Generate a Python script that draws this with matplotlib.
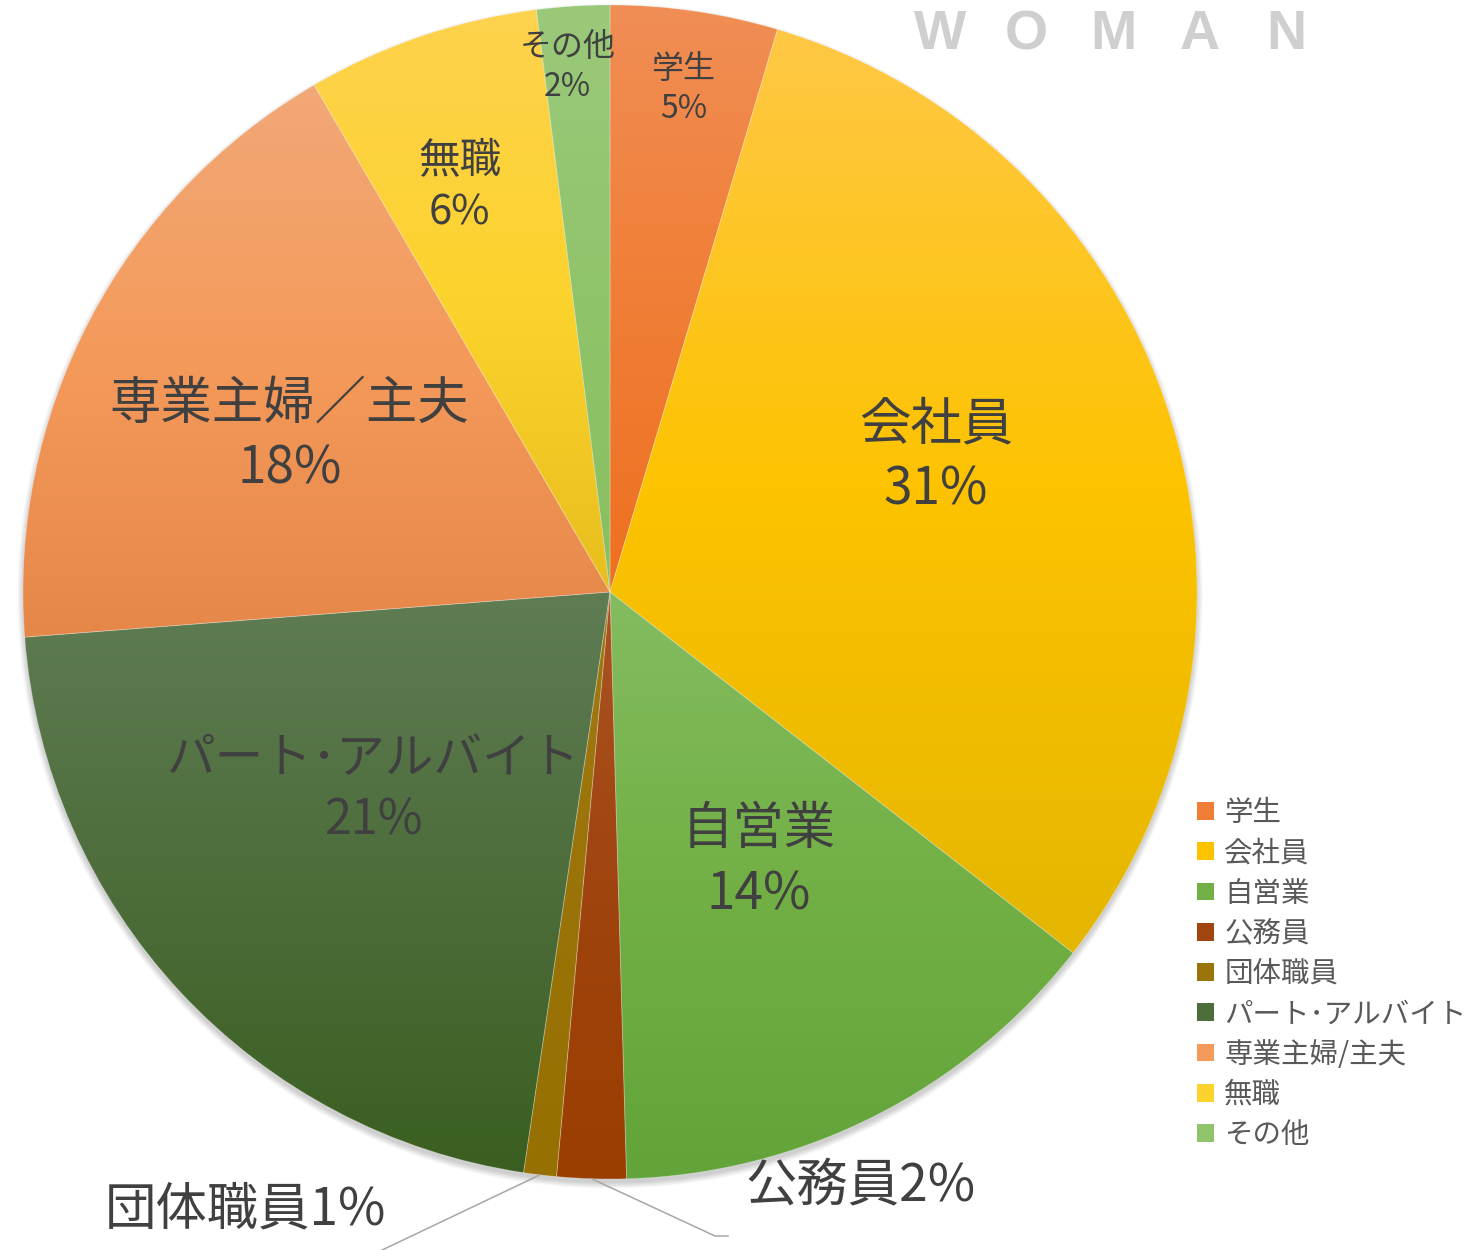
import numpy as np
import matplotlib
matplotlib.use("Agg")
import matplotlib.pyplot as plt
from matplotlib.colors import to_rgb
from matplotlib.patches import Circle, Patch

plt.rcParams["font.family"] = ["Noto Sans CJK JP", "DejaVu Sans"]

# データ (時計回り、上から)
categories = ["学生", "会社員", "自営業", "公務員", "団体職員",
              "パート･アルバイト", "専業主婦/主夫", "無職", "その他"]
values = [4.6, 30.9, 14.0, 1.9, 0.9, 21.4, 17.8, 6.4, 2.0]

# グラデーション色 (上, 中, 下)
colors_top = ["#F08E55", "#FFC845", "#84BC60", "#AA5422", "#A07812",
              "#5F7C53", "#F2A877", "#FED34E", "#9AC97A"]
colors_mid = ["#F07E36", "#FDC300", "#72B045", "#A04410", "#9A7408",
              "#4D6D3B", "#F49A5A", "#FCD22C", "#90C46A"]
colors_bottom = ["#EE7020", "#E4B600", "#62A43A", "#9A3E00", "#967000",
                 "#3A5F20", "#E6874A", "#E8BE1E", "#88BE60"]

W, H = 1467, 1250
cx, cy, R = 610, H - 592, 587
text_col = "#404040"

fig = plt.figure(figsize=(W / 100, H / 100), dpi=100)
ax = fig.add_axes([0, 0, 1, 1])

# 影
for i in range(8):
    ax.add_patch(Circle((cx, cy - 4), R + i * 0.8, color="black",
                        alpha=0.025, lw=0, zorder=0))

wedges, _ = ax.pie(values, startangle=90, counterclock=False,
                   center=(cx, cy), radius=R,
                   wedgeprops=dict(linewidth=0.6, edgecolor=(1, 1, 1, 0.25)))

t = np.linspace(0, 1, 256)
for w, ct, cm, cb in zip(wedges, colors_top, colors_mid, colors_bottom):
    w.set_zorder(2)
    w.set_facecolor("none")
    ext = w.get_path().get_extents()
    stops = np.array([to_rgb(cb), to_rgb(cm), to_rgb(ct)])
    grad = np.stack([np.interp(t, [0, 0.5, 1], stops[:, k]) for k in range(3)], axis=-1)
    im = ax.imshow(grad[:, None, :], extent=(ext.x0, ext.x1, ext.y0, ext.y1),
                   origin="lower", aspect="auto", zorder=1, interpolation="bilinear")
    im.set_clip_path(w)

total = sum(values)
pcts = [round(v / total * 100) for v in values]

# ラベル配置 (半径比, 角度補正[度], 文字サイズ)
label_dist = [0.866, 0.601, 0.525, None, None, 0.526, 0.607, 0.736, 0.897]
label_shift = [0.0, 4.75, 1.9, 0, 0, -3.1, 1.8, 1.6, 1.0]
label_size = [23, 37, 37, 37, 37, 35, 37, 30, 23]

for w, name, p, d, sh, fs in zip(wedges, categories, pcts, label_dist,
                                 label_shift, label_size):
    if d is None:
        continue
    mid = np.deg2rad((w.theta1 + w.theta2) / 2 + sh)
    x = cx + d * R * np.cos(mid)
    y = cy + d * R * np.sin(mid)
    gap = fs * 1.389 * 1.27
    ax.text(x, y + gap / 2, name.replace("/", "／"), ha="center", va="center",
            fontsize=fs, color=text_col, zorder=5)
    ax.text(x, y - gap / 2, f"{p}%", ha="center", va="center", fontsize=fs,
            color=text_col, zorder=5)

# 引き出し線ラベル
def edge_point(w):
    mid = np.deg2rad((w.theta1 + w.theta2) / 2)
    return cx + R * np.cos(mid), cy + R * np.sin(mid)

x0, y0 = edge_point(wedges[3])
ax.plot([x0, 715, 728], [y0, H - 1236, H - 1236], color="#A6A6A6", lw=1.1, zorder=4,
        clip_on=False)
ax.text(745, H - 1187, f"{categories[3]}{pcts[3]}%", ha="left", va="center",
        fontsize=label_size[3], color=text_col)

x0, y0 = edge_point(wedges[4])
ax.plot([x0, 378], [y0, H - 1252], color="#A6A6A6", lw=1.1, zorder=4, clip_on=False)
ax.text(105, H - 1210, f"{categories[4]}{pcts[4]}%", ha="left", va="center",
        fontsize=label_size[4], color=text_col)

# 透かし
for i, ch in enumerate("WOMAN"):
    ax.text(940 + i * 86.5, H - 35, ch, ha="center", va="center", fontsize=40,
            fontweight="bold", family="Liberation Sans", color="#CFCFCF")

# 凡例
mid_cols = [tuple(np.array(to_rgb(c))) for c in colors_mid]
handles = [Patch(facecolor=c, edgecolor="none") for c in mid_cols]
leg = fig.legend(handles, categories, loc="upper left",
                 bbox_to_anchor=(1197 / W, 1 - 798 / H), frameon=False,
                 fontsize=20.5, handlelength=0.58, handleheight=0.58,
                 handletextpad=0.38, labelspacing=0.36, borderpad=0, borderaxespad=0)
for t in leg.get_texts():
    t.set_color("#595959")

ax.set_xlim(0, W)
ax.set_ylim(0, H)
ax.set_aspect("equal")
ax.axis("off")

fig.savefig("out.png", dpi=100)
